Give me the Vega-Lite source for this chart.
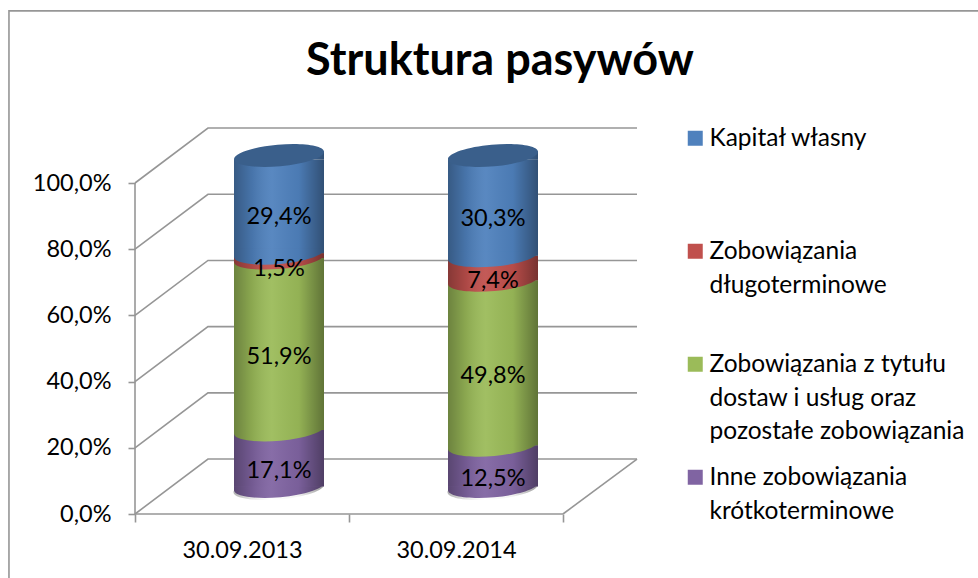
{"$schema":"https://vega.github.io/schema/vega-lite/v6.json","width":978,"height":578,"padding":0,"autosize":"none","background":"white","config":{"font":"Lato","view":{"stroke":null}},
"title":{"text":"Struktura pasywów","font":"Lato","fontSize":45,"fontWeight":"bold","color":"#000000","anchor":"middle","dx":11,"offset":-120,"dy":0,"baseline":"alphabetic"},
"datasets":{"main":[
{"date":"30.09.2013","series":"Inne zobowiązania krótkoterminowe","ord":1,"value":17.1,"mid":8.55,"label":"17,1%"},
{"date":"30.09.2013","series":"Zobowiązania z tytułu dostaw i usług oraz pozostałe zobowiązania","ord":2,"value":51.9,"mid":43.05,"label":"51,9%"},
{"date":"30.09.2013","series":"Zobowiązania długoterminowe","ord":3,"value":1.5,"mid":69.75,"label":"1,5%"},
{"date":"30.09.2013","series":"Kapitał własny","ord":4,"value":29.4,"mid":85.2,"label":"29,4%"},
{"date":"30.09.2014","series":"Inne zobowiązania krótkoterminowe","ord":1,"value":12.5,"mid":6.25,"label":"12,5%"},
{"date":"30.09.2014","series":"Zobowiązania z tytułu dostaw i usług oraz pozostałe zobowiązania","ord":2,"value":49.8,"mid":37.4,"label":"49,8%"},
{"date":"30.09.2014","series":"Zobowiązania długoterminowe","ord":3,"value":7.4,"mid":66,"label":"7,4%"},
{"date":"30.09.2014","series":"Kapitał własny","ord":4,"value":30.3,"mid":84.85,"label":"30,3%"}],
"frame":[
{"g":"border","p":-0.589,"v":-20},{"g":"border","p":-0.589,"v":152},{"g":"border","p":3.94,"v":152},
{"g":"front","p":0,"v":0},{"g":"front","p":2,"v":0},
{"g":"wall","p":0,"v":0},{"g":"wall","p":0,"v":100},
{"g":"floor","p":2,"v":0},{"g":"floor","p":2.346,"v":16.6},
{"g":"g0","p":0,"v":0},{"g":"g0","p":0.341,"v":16.6},{"g":"g0","p":2.346,"v":16.6},
{"g":"g20","p":0,"v":20},{"g":"g20","p":0.341,"v":36.6},{"g":"g20","p":2.346,"v":36.6},
{"g":"g40","p":0,"v":40},{"g":"g40","p":0.341,"v":56.6},{"g":"g40","p":2.346,"v":56.6},
{"g":"g60","p":0,"v":60},{"g":"g60","p":0.341,"v":76.6},{"g":"g60","p":2.346,"v":76.6},
{"g":"g80","p":0,"v":80},{"g":"g80","p":0.341,"v":96.6},{"g":"g80","p":2.346,"v":96.6},
{"g":"g100","p":0,"v":100},{"g":"g100","p":0.341,"v":116.6},{"g":"g100","p":2.346,"v":116.6}]},
"resolve":{"scale":{"x":"independent"},"axis":{"x":"independent"}},
"layer":[
{"data":{"name":"frame"},"mark":{"type":"line","stroke":"#969696","strokeWidth":1.6,"interpolate":"linear"},
 "encoding":{"x":{"field":"p","type":"quantitative","scale":{"domain":[0,2.346],"range":[135,637],"nice":false,"zero":false},"axis":null},
 "y":{"field":"v","type":"quantitative","title":null,"scale":{"domain":[0,100],"range":[514,183],"nice":false,"zero":false},
  "axis":{"values":[0,20,40,60,80,100],"offset":-135,"domain":false,"grid":false,"tickSize":7,"tickColor":"#969696","tickWidth":1.6,"labelFontSize":23.5,"labelColor":"#000000","labelPadding":17,"labelFont":"Lato","labelExpr":"replace(format(datum.value,'.1f'),'.',',')+'%'"}},
 "detail":{"field":"g"}}},
{"data":{"name":"main"},"layer":[
 {"transform":[{"stack":"value","groupby":["date"],"sort":[{"field":"ord"}],"as":["start","end"]},{"filter":"datum.ord<4"}],
  "mark":{"type":"bar","width":90,"xOffset":37,"x2Offset":37,"yOffset":-27.5,"y2Offset":-27.5},
  "encoding":{"x":{"field":"date","type":"nominal","sort":null,"title":null,"scale":{"domain":["30.09.2013","30.09.2014"],"range":[135,563],"paddingInner":0,"paddingOuter":0},
   "axis":{"offset":-64,"domain":false,"grid":false,"labelAngle":0,"tickBand":"extent","tickSize":8,"tickColor":"#969696","tickWidth":1.6,"labelFontSize":23.5,"labelColor":"#000000","labelPadding":16,"labelFont":"Lato"}},
   "y":{"field":"start","type":"quantitative"},"y2":{"field":"end"},
   "color":{"field":"series","type":"nominal","scale":{"domain":["Kapitał własny","Zobowiązania długoterminowe","Zobowiązania z tytułu dostaw i usług oraz pozostałe zobowiązania","Inne zobowiązania krótkoterminowe"],"range":["#4F81BD","#C0504D","#9BBB59","#8064A2"]},
    "legend":{"title":null,"orient":"none","legendX":683,"legendY":126,"symbolType":"square","symbolSize":225,"symbolStrokeWidth":0,"labelFontSize":24.5,"labelColor":"#000000","labelFont":"Lato","labelLimit":400,"labelOffset":2,"rowPadding":21,"gridAlign":"all","labelBaseline":"alphabetic",
     "labelExpr":"datum.label=='Zobowiązania długoterminowe'?['Zobowiązania','długoterminowe']:datum.label=='Inne zobowiązania krótkoterminowe'?['Inne zobowiązania','krótkoterminowe']:datum.label=='Kapitał własny'?datum.label:['Zobowiązania z tytułu','dostaw i usług oraz','pozostałe zobowiązania']",
     "encode":{"labels":{"update":{"lineHeight":{"value":33.5},"dy":{"value":8}}}}}}}},
 {"transform":[{"stack":"value","groupby":["date"],"sort":[{"field":"ord"}],"as":["start","end"]},{"filter":"datum.ord==4"}],
  "mark":{"type":"bar","width":90,"xOffset":37,"x2Offset":37,"yOffset":-27.5,"y2Offset":-23.5},
  "encoding":{"x":{"field":"date","type":"nominal","sort":null},"y":{"field":"start","type":"quantitative"},"y2":{"field":"end"},"color":{"field":"series","type":"nominal"}}},
 {"transform":[{"filter":"datum.ord==4"}],
  "mark":{"type":"point","filled":true,"opacity":1,"size":8100,"xOffset":37,"yOffset":-27.5,"shape":"M-1 0.09L1 -0.09L1 0.09Z"},
  "encoding":{"x":{"field":"date","type":"nominal","sort":null},"y":{"datum":100,"type":"quantitative"},"color":{"field":"series","type":"nominal"}}},
 {"transform":[{"stack":"value","groupby":["date"],"sort":[{"field":"ord"}],"as":["start","end"]}],
  "mark":{"type":"point","filled":true,"opacity":1,"size":8100,"xOffset":37,"yOffset":-27.5,"shape":"M-1 -0.1L-1 0.09A1 0.24 -5 0 0 1 -0.09L1 -0.1Z"},
  "encoding":{"x":{"field":"date","type":"nominal","sort":null},"y":{"field":"start","type":"quantitative"},"color":{"field":"series","type":"nominal"}}},
 {"transform":[{"filter":"datum.ord==1"}],
  "mark":{"type":"bar","width":90,"xOffset":37,"x2Offset":37,"yOffset":-27.5,"y2Offset":-23.5,"fill":{"gradient":"linear","x1":0,"x2":1,"y1":0,"y2":0,"stops":[{"offset":0,"color":"rgba(0,0,0,0.3)"},{"offset":0.2,"color":"rgba(0,0,0,0.1)"},{"offset":0.42,"color":"rgba(255,255,255,0.06)"},{"offset":0.72,"color":"rgba(0,0,0,0.05)"},{"offset":1,"color":"rgba(0,0,0,0.38)"}]}},
  "encoding":{"x":{"field":"date","type":"nominal","sort":null},"y":{"datum":0,"type":"quantitative"},"y2":{"datum":100}}},
 {"transform":[{"filter":"datum.ord==1"}],
  "mark":{"type":"point","filled":true,"opacity":1,"size":8100,"xOffset":37,"yOffset":-27.5,"shape":"M-1 0L-1 0.09A1 0.24 -5 0 0 0.985 0Z","fill":{"gradient":"linear","x1":0,"x2":1,"y1":0,"y2":0,"stops":[{"offset":0,"color":"rgba(0,0,0,0.3)"},{"offset":0.2,"color":"rgba(0,0,0,0.1)"},{"offset":0.42,"color":"rgba(255,255,255,0.06)"},{"offset":0.72,"color":"rgba(0,0,0,0.05)"},{"offset":1,"color":"rgba(0,0,0,0.38)"}]}},
  "encoding":{"x":{"field":"date","type":"nominal","sort":null},"y":{"datum":0,"type":"quantitative"}}},
 {"transform":[{"filter":"datum.ord==1"}],
  "mark":{"type":"point","filled":true,"opacity":1,"size":8100,"xOffset":37,"yOffset":-27.5,"shape":"M-1 0.09L1 -0.09L1 0.09Z","fill":{"gradient":"linear","x1":0,"x2":1,"y1":0,"y2":0,"stops":[{"offset":0,"color":"rgba(0,0,0,0.3)"},{"offset":0.2,"color":"rgba(0,0,0,0.1)"},{"offset":0.42,"color":"rgba(255,255,255,0.06)"},{"offset":0.72,"color":"rgba(0,0,0,0.05)"},{"offset":1,"color":"rgba(0,0,0,0.38)"}]}},
  "encoding":{"x":{"field":"date","type":"nominal","sort":null},"y":{"datum":100,"type":"quantitative"}}},
 {"transform":[{"filter":"datum.ord==1"}],
  "mark":{"type":"point","filled":true,"opacity":1,"size":8100,"xOffset":37,"yOffset":-27.5,"color":"#3A5F8B","shape":"M-1 0.09A1 0.24 -5 1 0 1 -0.09A1 0.24 -5 1 0 -1 0.09Z"},
  "encoding":{"x":{"field":"date","type":"nominal","sort":null},"y":{"datum":100,"type":"quantitative"}}},
 {"mark":{"type":"text","fontSize":23.5,"color":"#000000","font":"Lato","xOffset":37,"yOffset":-14.5},
  "encoding":{"x":{"field":"date","type":"nominal","sort":null},"y":{"field":"mid","type":"quantitative"},"text":{"field":"label"}}}
]}]}
